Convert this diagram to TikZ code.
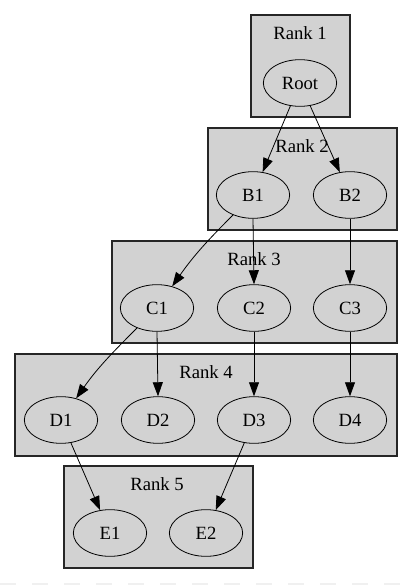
\documentclass[tikz,border=0pt]{standalone}
\usepackage{fontspec}
\setmainfont{Liberation Serif}
\usepackage{tikz}
\usetikzlibrary{arrows.meta, shapes.geometric}

\begin{document}
\begin{tikzpicture}[x=0.75pt, y=-0.75pt,
    rankbox/.style={draw=black!85, fill=gray!35, line width=0.8pt},
    ranklabel/.style={font=\fontsize{14}{16}\selectfont},
    vertex/.style={draw, ellipse, line width=0.6pt, minimum width=55pt, minimum height=35pt, inner sep=0pt, font=\fontsize{14}{16}\selectfont},
    edge/.style={-{Triangle[length=10.5pt, width=7.5pt]}, line width=0.6pt}]
				            \useasboundingbox (0,0) rectangle (413,585);

				            % faint strip at the foot
				            \foreach \x in {0,32,...,400}
				            \fill[gray!12] (\x,583) rectangle ++(16,2);

				            % the rank boxes
				            \draw[rankbox] (251,15) rectangle (350,117);
				            \node[ranklabel] (r1) at (300,33) {Rank 1};
				            \draw[rankbox] (208,128) rectangle (397,230);
				            \node[ranklabel] (r2) at (302,146) {Rank 2};
				            \draw[rankbox] (112,241) rectangle (397,343);
				            \node[ranklabel] (r3) at (254,259) {Rank 3};
				            \draw[rankbox] (15,354) rectangle (397,456);
				            \node[ranklabel] (r4) at (206,372) {Rank 4};
				            \draw[rankbox] (64,466) rectangle (253,568);
				            \node[ranklabel] (r5) at (157,484) {Rank 5};

				            % the vertices
				            \node[vertex] (Root) at (300,83) {Root};
				            \node[vertex] (B1) at (253,195) {B1};
				            \node[vertex] (B2) at (350,195) {B2};
				            \node[vertex] (C1) at (157,308) {C1};
				            \node[vertex] (C2) at (254,308) {C2};
				            \node[vertex] (C3) at (350,308) {C3};
				            \node[vertex] (D1) at (61,420) {D1};
				            \node[vertex] (D2) at (158,420) {D2};
				            \node[vertex] (D3) at (254,420) {D3};
				            \node[vertex] (D4) at (350,420) {D4};
				            \node[vertex] (E1) at (110,533) {E1};
				            \node[vertex] (E2) at (206,533) {E2};

				            % the edges
				            \draw[edge] (Root) -- (B1);
				            \draw[edge] (Root) -- (B2);
				            \draw[edge] (B1) to[out=-135, in=55] (C1);
				            \draw[edge] (B1.south) -- (C2.north);
				            \draw[edge] (B2) -- (C3);
				            \draw[edge] (C1) to[out=-135, in=55] (D1);
				            \draw[edge] (C1.south) -- (D2.north);
				            \draw[edge] (C2) -- (D3);
				            \draw[edge] (C3) -- (D4);
				            \draw[edge] (D1) -- (E1);
				            \draw[edge] (D3) -- (E2);
			            \end{tikzpicture}
\end{document}
